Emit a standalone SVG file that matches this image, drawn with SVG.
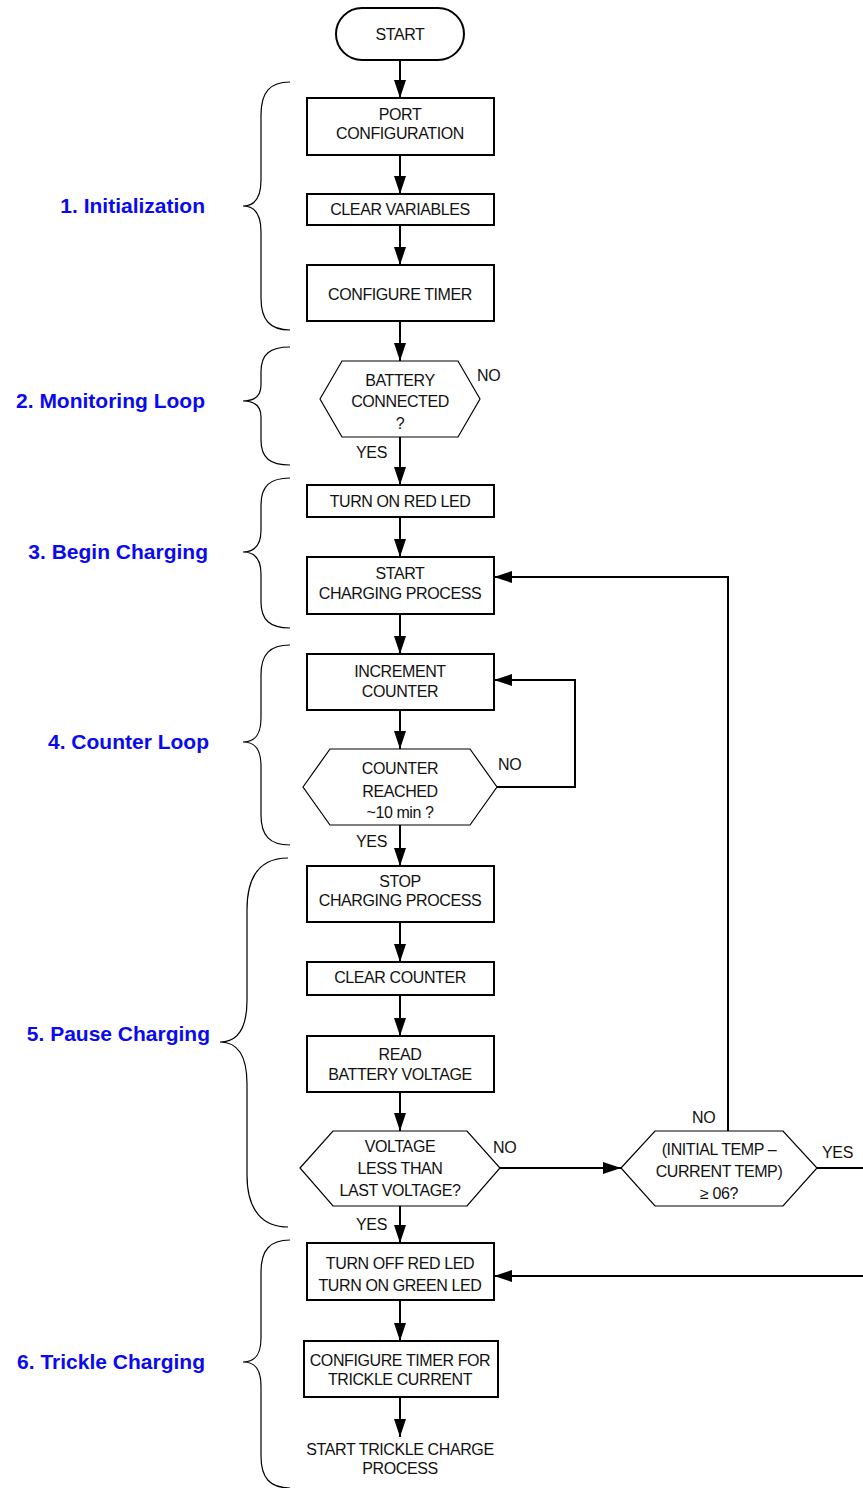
<svg xmlns="http://www.w3.org/2000/svg" width="863" height="1488" viewBox="0 0 863 1488">
<style>
.box{fill:#fff;stroke:#000;stroke-width:2}
.hex{fill:#fff;stroke:#000;stroke-width:1.2}
.t{font-family:"Liberation Sans",Arial,sans-serif;font-size:16px;fill:#111;text-anchor:middle;letter-spacing:-0.4px}
.lbl{font-family:"Liberation Sans",Arial,sans-serif;font-size:16px;fill:#111;letter-spacing:-0.3px}
.sec{font-family:"Liberation Sans",Arial,sans-serif;font-size:21px;font-weight:bold;fill:#0a0af0;text-anchor:end}
.c{fill:none;stroke:#000;stroke-width:2}
.br{fill:none;stroke:#000;stroke-width:1.2}
</style>
<defs>
<marker id="ah" markerUnits="userSpaceOnUse" markerWidth="18" markerHeight="12" viewBox="0 0 18 12" refX="18" refY="6" orient="auto">
<path d="M0,0 L18,6 L0,12 z" fill="#000"/>
</marker>
</defs>

<g id="connectors">
<path class="c" d="M400,60 V98" marker-end="url(#ah)"/>
<path class="c" d="M400,155 V194" marker-end="url(#ah)"/>
<path class="c" d="M400,225 V265" marker-end="url(#ah)"/>
<path class="c" d="M400,321 V361" marker-end="url(#ah)"/>
<path class="c" d="M400,437 V485" marker-end="url(#ah)"/>
<path class="c" d="M400,517 V557" marker-end="url(#ah)"/>
<path class="c" d="M400,614 V654" marker-end="url(#ah)"/>
<path class="c" d="M400,710 V749" marker-end="url(#ah)"/>
<path class="c" d="M400,825 V866" marker-end="url(#ah)"/>
<path class="c" d="M400,922 V962" marker-end="url(#ah)"/>
<path class="c" d="M400,995 V1036" marker-end="url(#ah)"/>
<path class="c" d="M400,1092 V1131" marker-end="url(#ah)"/>
<path class="c" d="M400,1206 V1243" marker-end="url(#ah)"/>
<path class="c" d="M400,1300 V1341" marker-end="url(#ah)"/>
<path class="c" d="M400,1397 V1437" marker-end="url(#ah)"/>
<path class="c" d="M497,787 H575 V680 H494" marker-end="url(#ah)"/>
<path class="c" d="M500,1168 H621" marker-end="url(#ah)"/>
<path class="c" d="M728,1131 V577 H494" marker-end="url(#ah)"/>
<path class="c" d="M817,1168 H880 V1276 H494" marker-end="url(#ah)"/>
</g>

<g id="braces">
<path class="br" d="M290,82 C270,82 261,92 261,115 L261,180 C261,198 255,206 243,206 C255,206 261,214 261,232 L261,298 C261,320 270,330 290,330"/>
<path class="br" d="M290,347 C270,347 261,354 261,372 L261,385 C261,396 255,401 243,401 C255,401 261,406 261,417 L261,440 C261,458 270,465 290,465"/>
<path class="br" d="M290,478 C270,478 261,486 261,505 L261,530 C261,545 255,552 243,552 C255,552 261,559 261,574 L261,602 C261,620 270,628 290,628"/>
<path class="br" d="M290,645 C270,645 261,654 261,675 L261,718 C261,735 255,742 243,742 C255,742 261,749 261,766 L261,815 C261,836 270,845 290,845"/>
<path class="br" d="M288,858 C264,858 247,872 247,910 L247,1000 C247,1030 236,1042 220,1042 C236,1042 247,1054 247,1084 L247,1175 C247,1212 264,1227 288,1227"/>
<path class="br" d="M290,1240 C270,1240 261,1250 261,1272 L261,1338 C261,1355 255,1362 243,1362 C255,1362 261,1369 261,1386 L261,1456 C261,1478 270,1488 290,1488"/>
</g>

<g id="labels">
<text class="sec" x="205" y="213">1. Initialization</text>
<text class="sec" x="205" y="408">2. Monitoring Loop</text>
<text class="sec" x="208" y="559">3. Begin Charging</text>
<text class="sec" x="209" y="749">4. Counter Loop</text>
<text class="sec" x="210" y="1041">5. Pause Charging</text>
<text class="sec" x="205" y="1369">6. Trickle Charging</text>
</g>

<g id="start"><rect class="box" x="336" y="8" width="128" height="52" rx="26"/><text class="t" x="400" y="40">START</text></g>
<g id="port"><rect class="box" x="307" y="98" width="187" height="57"/><text class="t" x="400" y="120">PORT</text><text class="t" x="400" y="139">CONFIGURATION</text></g>
<g id="clearvars"><rect class="box" x="307" y="194" width="187" height="31"/><text class="t" x="400" y="215">CLEAR VARIABLES</text></g>
<g id="conftimer"><rect class="box" x="307" y="265" width="187" height="56"/><text class="t" x="400" y="300">CONFIGURE TIMER</text></g>
<g id="battery"><polygon class="hex" points="320,399 342,361 458,361 480,399 458,437 342,437"/><text class="t" x="400" y="386">BATTERY</text><text class="t" x="400" y="407">CONNECTED</text><text class="t" x="400" y="429">?</text><text class="lbl" x="477" y="381">NO</text><text class="lbl" x="356" y="458">YES</text></g>
<g id="redled"><rect class="box" x="307" y="485" width="187" height="32"/><text class="t" x="400" y="507">TURN ON RED LED</text></g>
<g id="startcharge"><rect class="box" x="307" y="557" width="187" height="57"/><text class="t" x="400" y="579">START</text><text class="t" x="400" y="599">CHARGING PROCESS</text></g>
<g id="increment"><rect class="box" x="307" y="654" width="187" height="56"/><text class="t" x="400" y="677">INCREMENT</text><text class="t" x="400" y="697">COUNTER</text></g>
<g id="counter"><polygon class="hex" points="303,787 330,749 470,749 497,787 470,825 330,825"/><text class="t" x="400" y="774">COUNTER</text><text class="t" x="400" y="797">REACHED</text><text class="t" x="400" y="818">~10 min ?</text><text class="lbl" x="498" y="770">NO</text><text class="lbl" x="356" y="847">YES</text></g>
<g id="stopcharge"><rect class="box" x="307" y="866" width="187" height="56"/><text class="t" x="400" y="887">STOP</text><text class="t" x="400" y="906">CHARGING PROCESS</text></g>
<g id="clearcounter"><rect class="box" x="307" y="962" width="187" height="33"/><text class="t" x="400" y="983">CLEAR COUNTER</text></g>
<g id="readvolt"><rect class="box" x="307" y="1036" width="187" height="56"/><text class="t" x="400" y="1060">READ</text><text class="t" x="400" y="1080">BATTERY VOLTAGE</text></g>
<g id="voltage"><polygon class="hex" points="300,1168 333,1131 467,1131 500,1168 467,1206 333,1206"/><text class="t" x="400" y="1152">VOLTAGE</text><text class="t" x="400" y="1174">LESS THAN</text><text class="t" x="400" y="1196">LAST VOLTAGE?</text><text class="lbl" x="493" y="1153">NO</text><text class="lbl" x="356" y="1230">YES</text></g>
<g id="temp"><polygon class="hex" points="621,1168 655,1131 783,1131 817,1168 783,1206 655,1206"/><text class="t" x="719" y="1155">(INITIAL TEMP –</text><text class="t" x="719" y="1177">CURRENT TEMP)</text><text class="t" x="719" y="1199">≥ 06?</text><text class="lbl" x="692" y="1123">NO</text><text class="lbl" x="822" y="1158">YES</text></g>
<g id="greenled"><rect class="box" x="307" y="1243" width="187" height="57"/><text class="t" x="400" y="1269">TURN OFF RED LED</text><text class="t" x="400" y="1291">TURN ON GREEN LED</text></g>
<g id="trickletimer"><rect class="box" x="304" y="1341" width="194" height="56"/><text class="t" x="400" y="1366">CONFIGURE TIMER FOR</text><text class="t" x="400" y="1385">TRICKLE CURRENT</text></g>
<g id="tricklestart"><text class="t" x="400" y="1455">START TRICKLE CHARGE</text><text class="t" x="400" y="1474">PROCESS</text></g>
</svg>
